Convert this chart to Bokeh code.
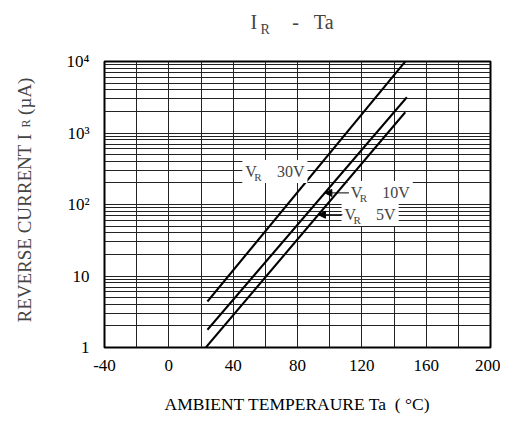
import math
from bokeh.plotting import figure
from bokeh.models import FixedTicker, Label, Arrow, NormalHead, Range1d
from bokeh.embed import file_html
from bokeh.resources import INLINE

# ---- data ----
series = ["30V", "10V", "5V"]
ta_start = [24, 24, 23]          # °C
ta_end = [147, 148, 147]         # °C
ir_start = [4.4, 1.77, 1.0]      # µA
ir_end = [10000, 3160, 1950]     # µA

x_ticks = [-40, 0, 40, 80, 120, 160, 200]
x_tick_labels = ["-40", "0", "40", "80", "120", "160", "200"]
x_minor_ticks = [-20, 20, 60, 100, 140, 180]
y_ticks = [1, 10, 100, 1000, 10000]
y_tick_labels = ["1", "10", "10²", "10³", "10⁴"]
y_minor_ticks = [m * 10 ** k for k in range(4) for m in range(2, 10)]

FONT = "Liberation Serif"
NB = "\u00a0"

p = figure(width=500, height=418,
           x_range=Range1d(-40, 200), y_range=Range1d(1, 10000),
           y_axis_type="log", output_backend="svg", toolbar_location=None,
           min_border_left=104, min_border_right=10,
           min_border_top=61, min_border_bottom=71)
p.title.visible = False
p.background_fill_color = "white"
p.border_fill_color = "white"
p.outline_line_color = "black"
p.outline_line_width = 2

p.xaxis.ticker = FixedTicker(ticks=x_ticks, minor_ticks=x_minor_ticks)
p.yaxis.ticker = FixedTicker(ticks=y_ticks, minor_ticks=y_minor_ticks)
p.xaxis.major_label_overrides = {t: l for t, l in zip(x_ticks, x_tick_labels)}
p.yaxis.major_label_overrides = {t: l for t, l in zip(y_ticks, y_tick_labels)}

for ax in (p.xaxis[0], p.yaxis[0]):
    ax.axis_line_color = None
    ax.major_tick_line_color = None
    ax.minor_tick_line_color = None
    ax.major_tick_out = 0
    ax.major_tick_in = 0
    ax.minor_tick_out = 0
    ax.major_label_text_font = FONT
    ax.major_label_text_font_size = "17px"
    ax.major_label_text_color = "black"

p.xaxis.major_label_standoff = 12
p.yaxis.major_label_standoff = 15
p.xaxis.axis_label = "AMBIENT TEMPERAURE Ta" + NB * 2 + "(" + NB + "°C)"
p.xaxis.axis_label_text_font = FONT
p.xaxis.axis_label_text_font_size = "17.5px"
p.xaxis.axis_label_text_font_style = "normal"
p.xaxis.axis_label_text_color = "black"
p.xaxis.axis_label_standoff = 20

for g in (p.xgrid[0], p.ygrid[0]):
    g.grid_line_color = "#222222"
    g.grid_line_width = 1
    g.minor_grid_line_color = "#222222"
    g.minor_grid_line_width = 1

for i in range(len(series)):
    p.line([ta_start[i], ta_end[i]], [ir_start[i], ir_end[i]],
           line_color="black", line_width=2)


def ir_at(i, t):
    a = math.log10(ir_start[i])
    b = math.log10(ir_end[i])
    f = (t - ta_start[i]) / (ta_end[i] - ta_start[i])
    return 10 ** (a + f * (b - a))


# ---- curve labels with arrows ----
label_pos = [(45.7, 289), (111.2, 147), (107.4, 72.4)]
arrow_tip = [None, 97, 93]
arrow_tail = [None, 112, 108]
for i, name in enumerate(series):
    lx, ly = label_pos[i]
    p.add_layout(Label(x=lx, y=ly, text="V" + NB * 5 + name,
                       text_font=FONT, text_font_size="16px",
                       text_baseline="middle", text_align="left",
                       background_fill_color="white", padding=3))
    p.add_layout(Label(x=lx, y=ly, x_offset=12, y_offset=-5, text="R",
                       text_font=FONT, text_font_size="11px",
                       text_baseline="middle", text_align="left"))
    if arrow_tip[i] is not None:
        yv = ir_at(i, arrow_tip[i])
        p.add_layout(Arrow(end=NormalHead(size=7, fill_color="black",
                                          line_color="black"),
                           x_start=arrow_tail[i], y_start=yv,
                           x_end=arrow_tip[i], y_end=yv,
                           line_color="black", line_width=1))

# ---- title "I_R - Ta" (panels above the frame) ----
p.add_layout(Label(x=146, y=40, x_units="screen", y_units="screen",
                   text="I" + NB * 7 + "-" + NB * 3 + "Ta",
                   text_font=FONT, text_font_size="20px",
                   text_baseline="middle"), "above")
p.add_layout(Label(x=156, y=10, x_units="screen", y_units="screen", text="R",
                   text_font=FONT, text_font_size="14px",
                   text_baseline="middle"), "above")

# ---- y axis label "REVERSE CURRENT I_R (µA)" (panels left of the axis) ----
p.add_layout(Label(x=-18.5, y=25, x_units="screen", y_units="screen",
                   text="REVERSE CURRENT I" + NB * 4 + "(µA)",
                   angle=math.pi / 2, text_font=FONT, text_font_size="19px",
                   text_baseline="middle", text_align="left"), "left")
p.add_layout(Label(x=-3, y=220, x_units="screen", y_units="screen", text="R",
                   angle=math.pi / 2, text_font=FONT, text_font_size="12px",
                   text_baseline="middle", text_align="left"), "left")

open("out.html", "w").write(file_html(p, INLINE))
